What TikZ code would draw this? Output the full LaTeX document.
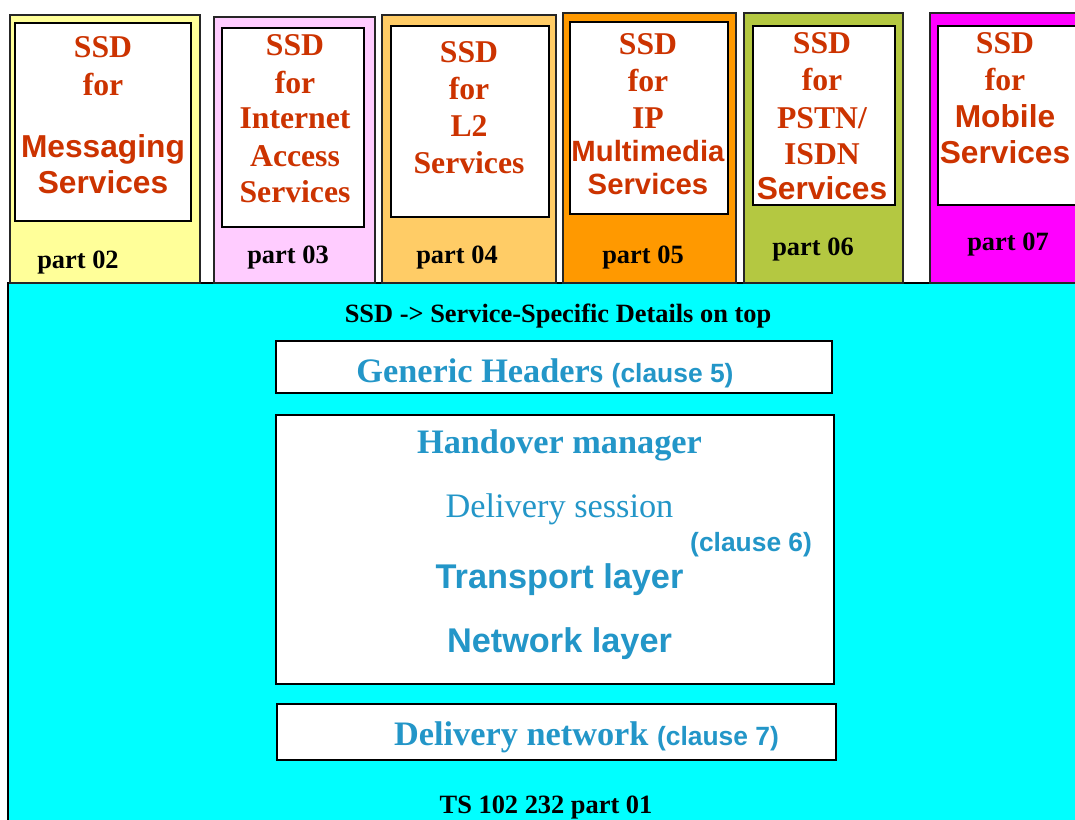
\documentclass[tikz,border=0pt]{standalone}
\usepackage{fontspec}
\setmainfont{Liberation Serif}
\setsansfont{Liberation Sans}
\definecolor{ssdred}{RGB}{204,51,0}
\definecolor{layblue}{RGB}{35,150,200}
\definecolor{cyanbg}{RGB}{0,255,255}
\definecolor{c1}{RGB}{255,255,153}
\definecolor{c2}{RGB}{255,204,255}
\definecolor{c3}{RGB}{255,204,102}
\definecolor{c4}{RGB}{255,153,0}
\definecolor{c5}{RGB}{180,200,65}
\definecolor{c6}{RGB}{255,0,255}
\tikzset{
  colbox/.style={draw=black!85, line width=1.5pt},
  innerbox/.style={draw=black, fill=white, line width=1.3pt},
  layerbox/.style={draw=black, fill=white, line width=1.3pt},
  ln/.style={anchor=base, inner sep=0pt, text=ssdred},
  ser/.style={ln, font=\fontsize{31.7}{34}\selectfont\bfseries},
  san/.style={ln, font=\fontsize{31.7}{34}\selectfont\sffamily\bfseries},
  sansmall/.style={ln, font=\fontsize{29.3}{32}\selectfont\sffamily\bfseries},
  partlbl/.style={anchor=base, inner sep=0pt, font=\fontsize{26.4}{28}\selectfont\bfseries},
  blk/.style={anchor=base, inner sep=0pt, font=\fontsize{26.4}{28}\selectfont\bfseries},
  blu/.style={anchor=base, inner sep=0pt, text=layblue},
  bser/.style={blu, font=\fontsize{34.3}{36}\selectfont\bfseries},
  bsan/.style={blu, font=\fontsize{34.3}{36}\selectfont\sffamily\bfseries},
}
\newcommand{\clausefont}{\fontsize{26.4}{28}\selectfont\sffamily\bfseries}
\begin{document}
\begin{tikzpicture}[x=1pt,y=-1pt]
\useasboundingbox (0,0) rectangle (1075,819);
\clip (0,0) rectangle (1075,819);
% background
\fill[white] (0,0) rectangle (1075,819);
\draw[fill=cyanbg, line width=1.5pt] (8,283) rectangle (1090,830);
% columns
\draw[colbox, fill=c1] (10,15) rectangle (200,283);
\draw[innerbox] (15,23) rectangle (191,221);
\draw[colbox, fill=c2] (214,17) rectangle (375,283);
\draw[innerbox] (222,28) rectangle (364,227);
\draw[colbox, fill=c3] (382,15) rectangle (556,283);
\draw[innerbox] (391,26) rectangle (549,217);
\draw[colbox, fill=c4] (563,13) rectangle (736,283);
\draw[innerbox] (570,22) rectangle (728,214);
\draw[colbox, fill=c5] (744,13) rectangle (903,283);
\draw[innerbox] (753,26) rectangle (895,205);
\draw[colbox, fill=c6] (930,13) rectangle (1090,283);
\draw[innerbox] (938,26) rectangle (1090,205);
% column 1
\node[ser] (a1) at (103,57) {SSD};
\node[ser] (a2) at (103,95) {for};
\node[san] (a3) at (103,157) {Messaging};
\node[san] (a4) at (103,193) {Services};
\node[partlbl] (p2) at (78,268) {part 02};
% column 2
\node[ser] (b1) at (295,55) {SSD};
\node[ser] (b2) at (295,93) {for};
\node[ser] (b3) at (295,128) {Internet};
\node[ser] (b4) at (295,166) {Access};
\node[ser] (b5) at (295,202) {Services};
\node[partlbl] (p3) at (288,263) {part 03};
% column 3
\node[ser] (c1t) at (469,62) {SSD};
\node[ser] (c2t) at (469,99) {for};
\node[ser] (c3t) at (469,136) {L2};
\node[ser] (c4t) at (469,173) {Services};
\node[partlbl] (p4) at (457,263) {part 04};
% column 4
\node[ser] (d1) at (648,54) {SSD};
\node[ser] (d2) at (648,91) {for};
\node[ser] (d3) at (648,128) {IP};
\node[sansmall] (d4) at (648,161) {Multimedia};
\node[sansmall] (d5) at (648,194) {Services};
\node[partlbl] (p5) at (643,263) {part 05};
% column 5
\node[ser] (e1) at (822,53) {SSD};
\node[ser] (e2) at (822,90) {for};
\node[ser] (e3) at (822,128) {PSTN/};
\node[ser] (e4) at (822,164) {ISDN};
\node[san] (e5) at (822,199) {Services};
\node[partlbl] (p6) at (813,255) {part 06};
% column 6
\node[ser] (f1) at (1005,53) {SSD};
\node[ser] (f2) at (1005,90) {for};
\node[san] (f3) at (1005,127) {Mobile};
\node[san] (f4) at (1005,163) {Services};
\node[partlbl] (p7) at (1008,250) {part 07};
% base part
\node[blk] (ssdnote) at (558,322) {SSD -> Service-Specific Details on top};
\draw[layerbox] (276,341) rectangle (832,393);
\node[bser] (gh) at (545,382) {Generic Headers {\clausefont (clause 5)}};
\draw[layerbox] (276,415) rectangle (834,684);
\node[bser] (hm) at (559.5,453) {Handover manager};
\node[blu, font=\fontsize{34.3}{36}\selectfont] (ds) at (559.5,517) {Delivery session};
\node[blu, anchor=base west, font=\clausefont] (cl6) at (690,551) {(clause 6)};
\node[bsan] (tl) at (559.5,588) {Transport layer};
\node[bsan] (nl) at (559.5,652) {Network layer};
\draw[layerbox] (277,704) rectangle (836,760);
\node[bser] (dn) at (586.5,745) {Delivery network {\clausefont (clause 7)}};
\node[blk] (ts) at (546,813) {TS 102 232 part 01};
\end{tikzpicture}
\end{document}
